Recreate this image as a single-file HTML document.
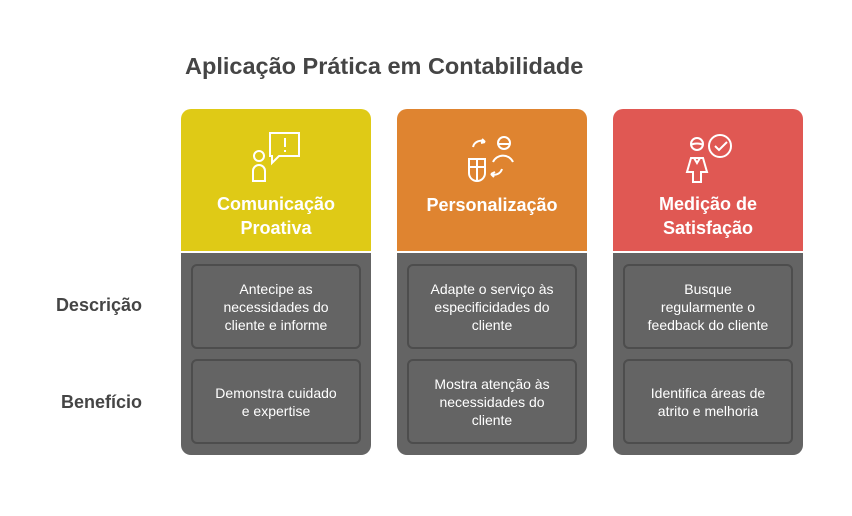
<!DOCTYPE html>
<html><head><meta charset="utf-8"><style>
body{margin:0;width:852px;height:516px;background:#fff;font-family:"Liberation Sans",sans-serif;position:relative;overflow:hidden}
.t{position:absolute;left:185px;top:53px;font-size:23.5px;font-weight:bold;color:#454545;white-space:nowrap}
.lbl{position:absolute;width:142px;text-align:right;font-size:18px;font-weight:bold;color:#454545;left:0}
.col{position:absolute;top:109px;width:190px;height:346px}
.hd{position:absolute;left:0;top:0;width:190px;height:142px;border-radius:10px 10px 0 0}
.bd{position:absolute;left:0;top:144px;width:190px;height:202px;background:#646464;border-radius:0 0 10px 10px}
.ht{position:absolute;left:0;top:83px;width:190px;text-align:center;color:#fff;font-weight:bold;font-size:18px;line-height:24px}
.bx{position:absolute;left:10px;width:166px;height:81px;border:2px solid #4d4d4d;border-radius:6px;display:flex;align-items:center;justify-content:center;text-align:center;color:#fff;font-size:14px;line-height:18px}
svg{position:absolute;left:62px;top:20px}
</style></head><body>
<div class="t">Aplicação Prática em Contabilidade</div>
<div class="lbl" style="top:295px">Descrição</div>
<div class="lbl" style="top:392px">Benefício</div>

<div class="col" style="left:181px">
<div class="hd" style="background:#dfca16"></div>
<svg width="70" height="60" fill="none" stroke="#fff" stroke-width="2"><circle cx="16" cy="27" r="5"/><path d="M10 52v-10a6 6 0 0 1 12 0v10z"/><path d="M27 4h29v23h-20l-7 7v-7h-2z"/><path d="M42 9v9M42 21v2"/></svg>
<div class="ht">Comunicação<br>Proativa</div>
<div class="bd"></div>
<div class="bx" style="top:155px">Antecipe as<br>necessidades do<br>cliente e informe</div>
<div class="bx" style="top:250px">Demonstra cuidado<br>e expertise</div>
</div>

<div class="col" style="left:397px">
<div class="hd" style="background:#df8430"></div>
<svg width="70" height="60" fill="none" stroke="#fff" stroke-width="2"><path d="M14 18a8 8 0 0 1 12-5l-3-3M26 13l-4 1"/><circle cx="45" cy="14" r="6"/><path d="M39 15h12M34 33a11 11 0 0 1 20 0"/><path d="M10 30h16v14a8 8 0 0 1-16 0z"/><path d="M18 30v22M10 38h16"/><path d="M43 40a8 8 0 0 1-11 5l3 3M32 45l4-2"/></svg>
<div class="ht" style="top:84px">Personalização</div>
<div class="bd"></div>
<div class="bx" style="top:155px">Adapte o serviço às<br>especificidades do<br>cliente</div>
<div class="bx" style="top:250px">Mostra atenção às<br>necessidades do<br>cliente</div>
</div>

<div class="col" style="left:613px">
<div class="hd" style="background:#e05853"></div>
<svg width="70" height="60" fill="none" stroke="#fff" stroke-width="2"><circle cx="22" cy="15" r="6"/><path d="M16 16c3-2 9-2 12 0"/><path d="M16 29h12l4 14h-6v10h-8v-10h-6z"/><path d="M19 29l3 5 3-5"/><circle cx="45" cy="17" r="11"/><path d="M40 17l4 4 8-8"/></svg>
<div class="ht">Medição de<br>Satisfação</div>
<div class="bd"></div>
<div class="bx" style="top:155px">Busque<br>regularmente o<br>feedback do cliente</div>
<div class="bx" style="top:250px">Identifica áreas de<br>atrito e melhoria</div>
</div>
</body></html>
